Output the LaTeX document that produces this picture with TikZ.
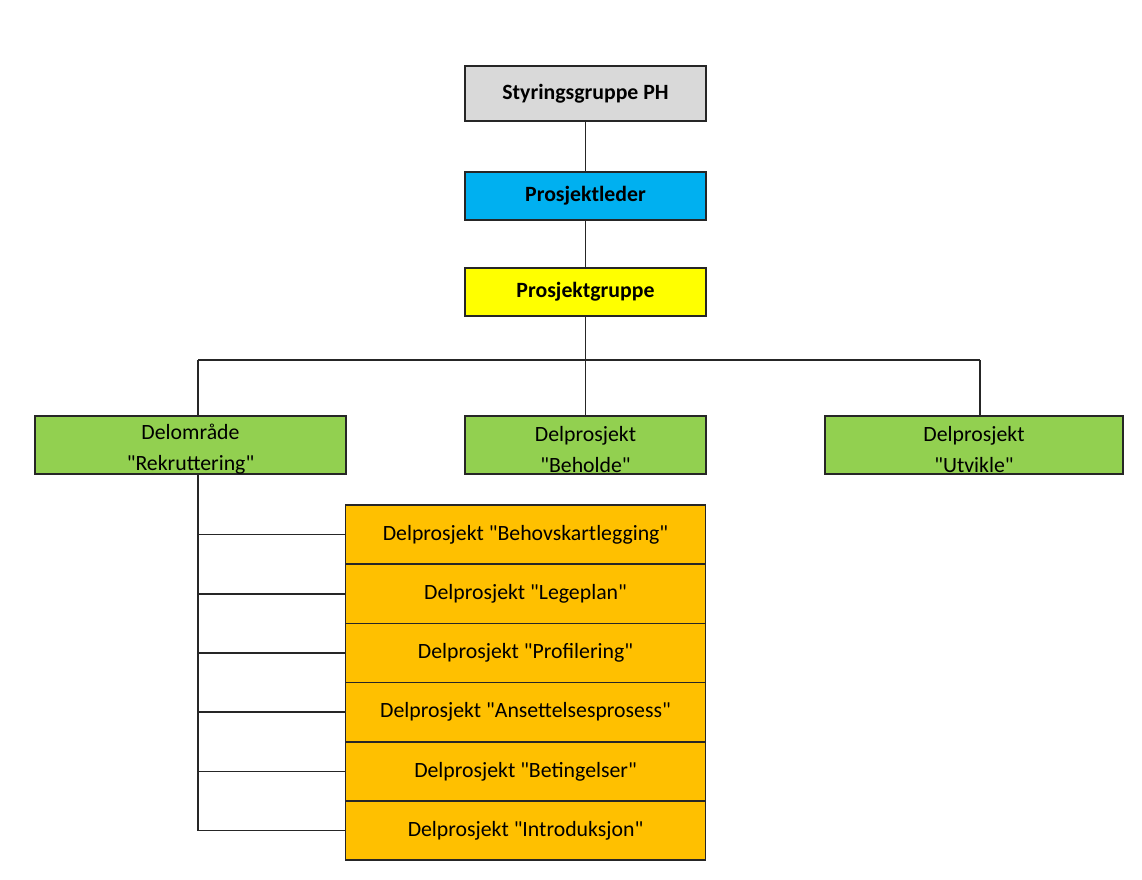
\documentclass[tikz,border=0pt]{standalone}
\usepackage{fontspec}
\setmainfont{Carlito}[Ligatures=TeXOff]
\usetikzlibrary{positioning}
\definecolor{headgray}{HTML}{D9D9D9}
\definecolor{leadblue}{HTML}{00B0F0}
\definecolor{groupyellow}{HTML}{FFFF00}
\definecolor{areagreen}{HTML}{92D050}
\definecolor{suborange}{HTML}{FFC000}
\definecolor{linegray}{HTML}{262626}
\newcommand{\lowstrut}{\rule{0pt}{13.5pt}}

\begin{document}
\begin{tikzpicture}[x=0.02cm, y=-0.02cm, line width=1pt, draw=linegray,
  box/.style={rectangle, draw=linegray, line width=1pt, align=center,
    inner sep=0pt, font=\fontsize{12.4}{17.6}\selectfont},
  topbox/.style={box, minimum width=4.82cm, font=\fontsize{12.4}{14}\selectfont\bfseries},
  areabox/.style={box, fill=areagreen, minimum height=1.16cm},
  subbox/.style={box, fill=suborange, minimum width=7.2cm, minimum height=1.184cm}]
  \useasboundingbox (0,0) rectangle (1142,879);

  % top chain
  \node[topbox, fill=headgray, minimum height=1.1cm] (styr) at (585.5,93.5) {Styringsgruppe PH};
  \node[topbox, fill=leadblue, minimum height=0.96cm] (leder) at (585.5,196) {Prosjektleder};
  \node[topbox, fill=groupyellow, minimum height=0.96cm] (gruppe) at (585.5,292) {Prosjektgruppe};

  % second level
  \node[areabox, minimum width=6.22cm] (rekr) at (190.5,445) {\lowstrut Delområde\\"Rekruttering"};
  \node[areabox, minimum width=4.82cm] (beholde) at (585.5,445) {\lowstrut Delprosjekt\\"Beholde"};
  \node[areabox, minimum width=5.96cm] (utvikle) at (974,445) {\lowstrut Delprosjekt\\"Utvikle"};

  % sub projects
  \foreach \i/\txt in {1/Behovskartlegging, 2/Legeplan, 3/Profilering,
      4/Ansettelsesprosess, 5/Betingelser, 6/Introduksjon}
    \node[subbox] (d\i) at (525.5,{534.6+59.2*(\i-1)}) {Delprosjekt "\txt"};

  % connections
  \coordinate (jm) at (585.5,360);
  \coordinate (jl) at (198,360);
  \coordinate (jr) at (980,360);
  \draw (styr) -- (leder);
  \draw (leder) -- (gruppe);
  \draw (gruppe) -- (jm);
  \draw (jl) -- (jr);
  \draw (jl) -- (jl |- rekr.north);
  \draw (jm) -- (beholde);
  \draw (jr) -- (jr |- utvikle.north);
  \draw (jl |- rekr.south) -- (jl |- d6.west);
  \foreach \i in {1,...,6}
    \draw (jl |- d\i.west) -- (d\i.west);
\end{tikzpicture}
\end{document}
